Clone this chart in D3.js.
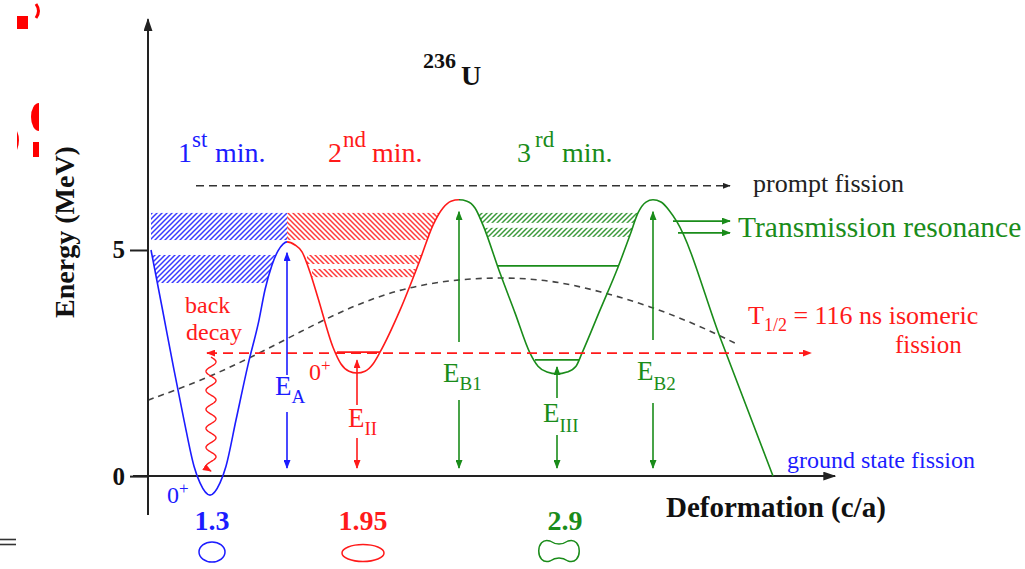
<!DOCTYPE html>
<html lang="en">
<head>
<meta charset="UTF-8">
<title>236U fission barrier</title>
<style>
  body, html { margin: 0; padding: 0; background: #fff; }
  #svg { display: block; font-family: 'Liberation Serif', 'Times New Roman', serif; }
</style>
</head>
<body>
<svg id="svg" width="1025" height="569"></svg>
<script src="https://d3js.org/d3.v7.min.js"></script>
<script>
// potential energy (MeV) vs deformation (arb. units)
const firstWell = [[0.3,5.00],[1.4,3.74],[2.6,2.35],[3.6,1.24],[4.6,0.22],[5.2,-0.15],[6.2,-0.42],[7.2,-0.15],[7.8,0.22],[8.8,1.24],[10.0,2.46],[11.1,3.45],[11.7,4.12],[12.4,4.67],[13.0,4.98],[13.5,5.13],[13.9,5.18]]
const secondWell = [[13.9,5.18],[14.7,5.11],[15.4,4.96],[16.2,4.51],[17.0,3.94],[18.5,2.85],[19.3,2.48],[20.1,2.32],[20.9,2.28],[21.7,2.32],[22.5,2.48],[23.2,2.74],[25.2,3.67],[27.2,4.78],[28.5,5.55],[29.5,5.93],[30.3,6.08],[31.1,6.11]]
const thirdWell = [[31.1,6.11],[31.9,6.08],[32.7,5.93],[33.5,5.55],[35.2,4.49],[36.7,3.61],[38.2,2.72],[39.0,2.43],[39.9,2.30],[40.9,2.26],[41.9,2.30],[42.8,2.43],[43.4,2.72],[45.2,3.67],[47.0,4.62],[48.2,5.33],[49.0,5.82],[49.8,6.06],[50.5,6.11],[51.3,6.06],[52.1,5.88],[52.9,5.62],[57.2,3.07],[62.5,0.00]]
// liquid drop (dashed) curve
const liquidDrop = [[0,1.68],[5.2,2.10],[10.2,2.61],[15.2,3.19],[20.2,3.74],[25.2,4.14],[30.2,4.34],[35.2,4.40],[40.2,4.34],[45.2,4.09],[50.2,3.76],[55.2,3.32],[58.7,2.94]]

// hatched state bands [q0, q1, eLow, eHigh]
const blueBands = [[0.2,13.9,5.22,5.82],[0.2,13.9,4.27,4.89]]
const redBands = [[13.9,31.1,5.22,5.82],[15.9,27.4,4.69,4.89],[16.4,26.8,4.40,4.58]]
const greenBands = [[33.0,48.9,5.60,5.82],[33.7,48.5,5.29,5.49]]

// solid levels inside wells [q0, q1, E]
const redLevels = [[18.9,23.2,2.74]]
const greenLevels = [[34.9,47.0,4.65],[38.7,43.2,2.57]]

// barrier / well depth arrows
const arrowNames = ['A', 'II', 'B1', 'III', 'B2']
const arrowQ = [13.9, 20.9, 31.1, 40.9, 50.5]
const arrowTop = [5.18, 2.74, 6.11, 2.57, 6.11]

// deformation (c/a) of the three minima
const minimaQ = [6.4, 21.5, 41.7]
const minimaLabels = ['1.3', '1.95', '2.9']

const isomerE = 2.72
const promptE = 6.42
const transmissionE = [5.64, 5.38]

const BLUE = '#1c1cff', RED = '#ff1a1a', GREEN = '#1a8c1a', DARK = '#222'

const svg = d3.select('#svg')
const x = d3.scaleLinear().domain([0, 70]).range([148, 848])
const y = d3.scaleLinear().domain([-0.86, 10.13]).range([515, 18])

const defs = svg.append('defs')

function marker(id, color, w, h) {
  defs.append('marker')
    .attr('id', id)
    .attr('viewBox', '0 0 10 10')
    .attr('refX', 9).attr('refY', 5)
    .attr('markerWidth', w).attr('markerHeight', h)
    .attr('markerUnits', 'userSpaceOnUse')
    .attr('preserveAspectRatio', 'none')
    .attr('orient', 'auto-start-reverse')
    .append('path').attr('d', 'M0,0L10,5L0,10z').attr('fill', color)
}
marker('ax', DARK, 13, 9)
marker('ab', BLUE, 9, 7)
marker('ar', RED, 9, 7)
marker('ag', GREEN, 9, 7)
marker('ak', DARK, 8, 6)

function hatch(id, color, up) {
  const p = defs.append('pattern').attr('id', id)
    .attr('patternUnits', 'userSpaceOnUse').attr('width', 5).attr('height', 5)
  p.append('path')
    .attr('d', up ? 'M-1,1L1,-1M0,5L5,0M4,6L6,4' : 'M-1,4L1,6M0,0L5,5M4,-1L6,1')
    .attr('stroke', color).attr('stroke-width', 1.5)
}
hatch('hb', '#3a3aff', true)
hatch('hr', '#ff3a3a', false)
hatch('hg', '#3a9a3a', true)

// whole potential as one curve
const potential = firstWell.concat(secondWell.slice(1), thirdWell.slice(1))
const curve = d3.curveMonotoneX

// region above the potential, used to clip bands and levels
defs.append('clipPath').attr('id', 'above')
  .append('path')
  .attr('d', d3.area().x(d => x(d[0])).y0(0).y1(d => y(d[1])).curve(curve)(potential))

// colour segments of the potential
const segs = [[0, secondWell[0][0], BLUE], [secondWell[0][0], thirdWell[0][0], RED], [thirdWell[0][0], 70, GREEN]]
segs.forEach((s, i) => {
  defs.append('clipPath').attr('id', 'seg' + i)
    .append('rect').attr('x', x(s[0])).attr('y', 0)
    .attr('width', x(s[1]) - x(s[0])).attr('height', 569)
})

const bands = svg.append('g').attr('clip-path', 'url(#above)')
;[[blueBands, 'hb'], [redBands, 'hr'], [greenBands, 'hg']].forEach(([arr, id]) => {
  bands.selectAll(null).data(arr).join('rect')
    .attr('x', d => x(d[0])).attr('width', d => x(d[1]) - x(d[0]))
    .attr('y', d => y(d[3])).attr('height', d => y(d[2]) - y(d[3]))
    .attr('fill', `url(#${id})`)
})

// dashed liquid drop curve
svg.append('path')
  .attr('d', d3.line().x(d => x(d[0])).y(d => y(d[1])).curve(d3.curveBasis)(liquidDrop))
  .attr('fill', 'none').attr('stroke', '#444').attr('stroke-width', 1.6)
  .attr('stroke-dasharray', '6,5')

// axes
svg.append('line')
  .attr('x1', x(0)).attr('x2', x(0)).attr('y1', y(-0.86)).attr('y2', y(10.1))
  .attr('stroke', DARK).attr('stroke-width', 2).attr('marker-end', 'url(#ax)')
svg.append('line')
  .attr('x1', x(-1.5)).attr('x2', x(68.7)).attr('y1', y(0)).attr('y2', y(0))
  .attr('stroke', DARK).attr('stroke-width', 2).attr('marker-end', 'url(#ax)')

const yAxis = svg.append('g').attr('transform', `translate(${x(0)},0)`)
  .call(d3.axisLeft(y).tickValues([0, 5]).tickSize(18).tickPadding(5).tickSizeOuter(0))
yAxis.select('.domain').remove()
yAxis.selectAll('line').attr('stroke', DARK).attr('stroke-width', 2)
yAxis.selectAll('text')
  .attr('font-family', 'Liberation Serif').attr('font-size', 25)
  .attr('font-weight', 'bold').attr('fill', '#111')

// potential curve, coloured per well
segs.forEach((s, i) => {
  svg.append('path')
    .attr('clip-path', `url(#seg${i})`)
    .attr('d', d3.line().x(d => x(d[0])).y(d => y(d[1])).curve(curve)(potential))
    .attr('fill', 'none').attr('stroke', s[2]).attr('stroke-width', 1.6)
})

// levels inside wells
const levels = svg.append('g').attr('clip-path', 'url(#above)')
;[[redLevels, RED], [greenLevels, GREEN]].forEach(([arr, c]) => {
  levels.selectAll(null).data(arr).join('line')
    .attr('x1', d => x(d[0])).attr('x2', d => x(d[1]))
    .attr('y1', d => y(d[2])).attr('y2', d => y(d[2]))
    .attr('stroke', c).attr('stroke-width', 1.8)
})

// isomeric fission, red dashed double arrow
svg.append('line')
  .attr('x1', x(5.9)).attr('x2', x(66.3)).attr('y1', y(isomerE)).attr('y2', y(isomerE))
  .attr('stroke', RED).attr('stroke-width', 1.6).attr('stroke-dasharray', '10,6')
  .attr('marker-start', 'url(#ar)').attr('marker-end', 'url(#ar)')

// prompt fission arrow
svg.append('line')
  .attr('x1', x(4.8)).attr('x2', x(58.2)).attr('y1', y(promptE)).attr('y2', y(promptE))
  .attr('stroke', '#333').attr('stroke-width', 1.6).attr('stroke-dasharray', '8,5')
  .attr('marker-end', 'url(#ak)')

// transmission resonance arrows
svg.selectAll(null).data(transmissionE).join('line')
  .attr('x1', (d, i) => x(i ? 53.0 : 52.5)).attr('x2', x(58.2))
  .attr('y1', d => y(d)).attr('y2', d => y(d))
  .attr('stroke', GREEN).attr('stroke-width', 1.8).attr('marker-end', 'url(#ag)')

// back decay wavy arrow
const waveTop = y(isomerE) + 4, waveBot = y(0) - 5
const wave = d3.range(0, 1.0001, 0.005).map(t => [x(6.3) + 5 * Math.sin(t * Math.PI * 12), waveTop + t * (waveBot - waveTop)])
svg.append('path').attr('d', d3.line()(wave))
  .attr('fill', 'none').attr('stroke', RED).attr('stroke-width', 1.4)
  .attr('marker-end', 'url(#ar)')

// energy arrows with labels: [colour, marker, tip gap, up-from, down-from, label x shift, baseline, sub baseline]
const arrowLayout = [
  [BLUE, 'ab', 11, 375, 412, -12, 395, 403],
  [RED, 'ar', 8, 405, 438, -9, 427, 435],
  [GREEN, 'ag', 12, 342, 400, -16, 382, 390],
  [GREEN, 'ag', 7, 398, 435, -14, 422, 432],
  [GREEN, 'ag', 12, 340, 403, -16, 380, 390]
]
arrowNames.forEach((name, i) => {
  const [c, m, gap, upFrom, downFrom, dx, base, subBase] = arrowLayout[i]
  const ax = x(arrowQ[i])
  svg.append('line').attr('x1', ax).attr('x2', ax)
    .attr('y1', upFrom).attr('y2', y(arrowTop[i]) + gap)
    .attr('stroke', c).attr('stroke-width', 1.6).attr('marker-end', `url(#${m})`)
  svg.append('line').attr('x1', ax).attr('x2', ax)
    .attr('y1', downFrom).attr('y2', y(0) - 8)
    .attr('stroke', c).attr('stroke-width', 1.6).attr('marker-end', `url(#${m})`)
  const t = svg.append('text').attr('fill', c).attr('font-size', 27)
    .attr('x', ax + dx).attr('y', base).text('E')
  t.append('tspan').attr('font-size', 19).attr('dy', subBase - base).text(name)
})

// text
function txt(s, px, py, size, color, opts = {}) {
  return svg.append('text').attr('x', px).attr('y', py)
    .attr('font-size', size).attr('fill', color)
    .attr('font-weight', opts.bold ? 'bold' : null)
    .attr('text-anchor', opts.anchor || 'start')
    .text(s)
}

// nucleus label
const nuc = txt('236', 423, 68, 22, '#111', { bold: true })
nuc.append('tspan').attr('x', 461).attr('y', 85).attr('font-size', 28).text('U')

// minima headings
const heads = [['1', 'st', 178, 192, 215, BLUE], ['2', 'nd', 328, 343, 372, RED], ['3', 'rd', 517, 535, 562, GREEN]]
heads.forEach(h => {
  const t = txt(h[0], h[2], 162, 28, h[5])
  t.append('tspan').attr('x', h[3]).attr('y', 147).attr('font-size', 23).text(h[1])
  t.append('tspan').attr('x', h[4]).attr('y', 162).attr('font-size', 28).text('min.')
})

txt('prompt fission', 753, 192, 26, '#222')
txt('Transmission resonance', 738, 237, 29.5, GREEN)
const iso = txt('T', 748, 324, 26, RED)
iso.append('tspan').attr('font-size', 18).attr('dy', 7).text('1/2')
iso.append('tspan').attr('dy', -7).text(' = 116 ns isomeric')
txt('fission', 895, 353, 25, RED)
txt('ground state fission', 787, 468, 24, BLUE)
txt('back', 185, 313, 24, RED)
txt('decay', 186, 340, 24, RED)

const z1 = txt('0', 167, 503, 24, BLUE)
z1.append('tspan').attr('font-size', 17).attr('dy', -9).text('+')
const z2 = txt('0', 309, 380, 24, RED)
z2.append('tspan').attr('font-size', 17).attr('dy', -9).text('+')

svg.append('text')
  .attr('transform', 'translate(74,232) rotate(-90)')
  .attr('text-anchor', 'middle').attr('font-size', 28).attr('font-weight', 'bold')
  .attr('fill', '#111').text('Energy (MeV)')
txt('Deformation (c/a)', 666, 517, 29, '#111', { bold: true })

// c/a values and nucleus shapes
const minColors = [BLUE, RED, GREEN]
minimaLabels.forEach((s, i) => txt(s, x(minimaQ[i]), 530, 28, minColors[i], { bold: true, anchor: 'middle' }))
svg.append('ellipse').attr('cx', x(minimaQ[0])).attr('cy', 552).attr('rx', 13).attr('ry', 10)
  .attr('fill', 'none').attr('stroke', BLUE).attr('stroke-width', 1.5)
svg.append('ellipse').attr('cx', x(minimaQ[1])).attr('cy', 553).attr('rx', 21).attr('ry', 8.5)
  .attr('fill', 'none').attr('stroke', RED).attr('stroke-width', 1.5)
const pc = x(minimaQ[2]) - 6
svg.append('path')
  .attr('d', `M${pc - 9},541 C${pc - 3},545 ${pc + 3},545 ${pc + 9},541 C${pc + 24},536 ${pc + 24},566 ${pc + 9},561 C${pc + 3},557 ${pc - 3},557 ${pc - 9},561 C${pc - 24},566 ${pc - 24},536 ${pc - 9},541 Z`)
  .attr('fill', 'none').attr('stroke', GREEN).attr('stroke-width', 1.5)

// clipped fragments of neighbouring slide content at the left edge
svg.append('rect').attr('x', 17).attr('y', 16).attr('width', 11).attr('height', 13).attr('fill', 'red')
svg.append('path').attr('d', 'M36,4 Q41,11 36,18').attr('fill', 'none').attr('stroke', 'red').attr('stroke-width', 3)
svg.append('path').attr('d', 'M39,103 A8,14 0 0 0 39,131 Z').attr('fill', 'red')
svg.append('rect').attr('x', 33).attr('y', 142).attr('width', 6).attr('height', 15).attr('fill', 'red')
svg.append('path').attr('d', 'M17,131 Q21,140 17,150 Z').attr('fill', 'red')
svg.append('line').attr('x1', 0).attr('x2', 16).attr('y1', 539.5).attr('y2', 539.5).attr('stroke', '#333').attr('stroke-width', 1.6)
svg.append('line').attr('x1', 0).attr('x2', 16).attr('y1', 544.5).attr('y2', 544.5).attr('stroke', '#333').attr('stroke-width', 1.6)
</script>
</body>
</html>
